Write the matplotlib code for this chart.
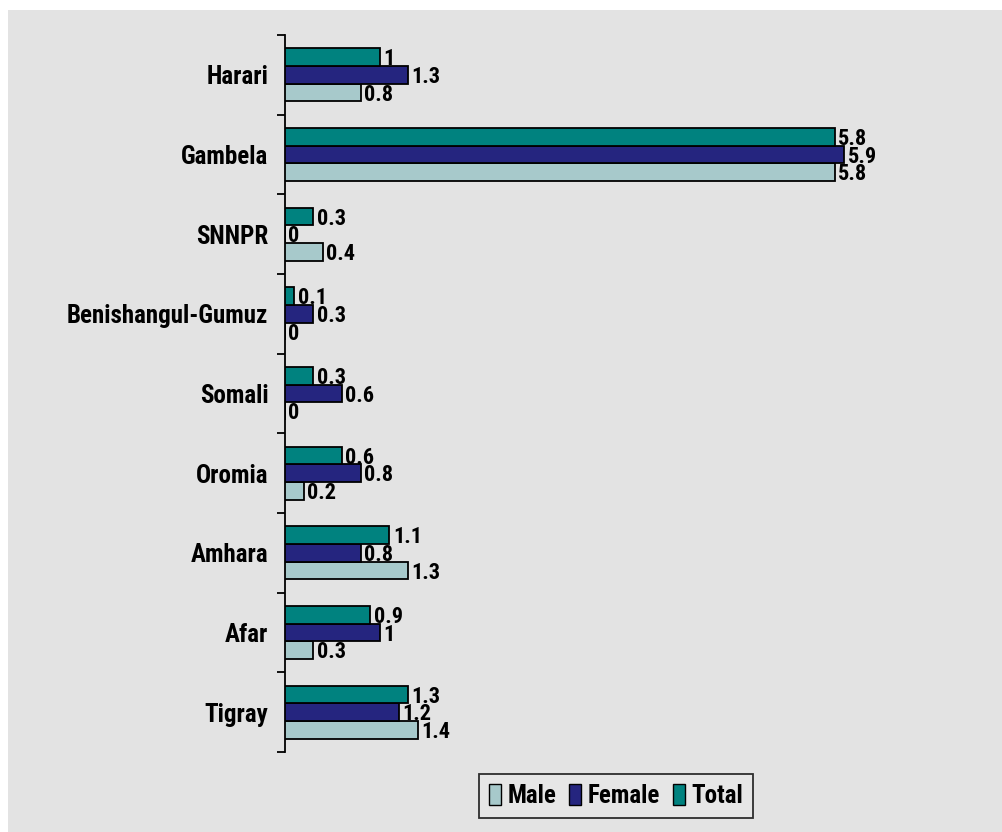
import matplotlib
matplotlib.use("Agg")
import matplotlib.pyplot as plt
from matplotlib.patches import Rectangle, Patch
import numpy as np

regions = ["Tigray", "Afar", "Amhara", "Oromia", "Somali",
           "Benishangul-Gumuz", "SNNPR", "Gambela", "Harari"]
male = [1.4, 0.3, 1.3, 0.2, 0, 0, 0.4, 5.8, 0.8]
female = [1.2, 1, 0.8, 0.8, 0.6, 0.3, 0, 5.9, 1.3]
total = [1.3, 0.9, 1.1, 0.6, 0.3, 0.1, 0.3, 5.8, 1]

c_male = "#a7c9cb"
c_female = "#25257f"
c_total = "#00827f"
bg = "#e3e3e3"

FONT = ["Roboto Condensed", "DejaVu Sans"]
plt.rcParams["font.family"] = FONT
plt.rcParams["font.weight"] = "bold"

W, H = 1003, 832
fig = plt.figure(figsize=(W / 100, H / 100), dpi=100)
fig.patch.set_facecolor("white")
fig.patches.append(Rectangle((8 / W, 0), 1 - 8 / W, 1 - 10 / H,
                             transform=fig.transFigure, facecolor=bg,
                             edgecolor="none", zorder=-10))

x0 = 285 / W
ax = fig.add_axes([x0, 1 - 752 / H, 7 * 94.8 / W, (752 - 35) / H])
ax.set_facecolor("none")

y = np.arange(len(regions))
h = 0.222
series = [(male, c_male, -h, "Male"), (female, c_female, 0, "Female"),
          (total, c_total, h, "Total")]
for vals, col, off, lab in series:
    ax.barh(y + off, vals, height=h, color=col, edgecolor="black",
            linewidth=1.3, label=lab, zorder=3)
    for v, yy in zip(vals, y + off):
        txt = f"{v:g}"
        ax.annotate(txt, (v, yy), xytext=(2.5, -1.5), textcoords="offset points",
                    ha="left", va="center", fontsize=16, fontweight="bold",
                    zorder=4)

ax.set_xlim(0, 7)
ax.set_ylim(-0.5, len(regions) - 0.5)
for s in ["top", "right", "bottom"]:
    ax.spines[s].set_visible(False)
ax.spines["left"].set_linewidth(1.3)
ax.set_xticks([])
ax.set_yticks(y)
ax.set_yticklabels(regions, fontsize=18, fontweight="bold")
ax.tick_params(axis="y", which="major", length=0, pad=12)
ax.set_yticks(np.arange(-0.5, len(regions), 1.0), minor=True)
ax.tick_params(axis="y", which="minor", length=6, width=1.3, direction="out")

handles = [Patch(facecolor=c_male, edgecolor="black", label="Male"),
           Patch(facecolor=c_female, edgecolor="black", label="Female"),
           Patch(facecolor=c_total, edgecolor="black", label="Total")]
leg = fig.legend(handles=handles, loc="center", bbox_to_anchor=(616 / W, 1 - 796 / H),
                 ncol=3, frameon=True, fancybox=False, fontsize=18,
                 handlelength=0.5, handleheight=0.9, handletextpad=0.25,
                 columnspacing=0.5, borderpad=0.4, borderaxespad=0)
leg.get_frame().set_edgecolor("black")
leg.get_frame().set_linewidth(1.3)
leg.get_frame().set_facecolor("#e8e8e8")
for t in leg.get_texts():
    t.set_fontweight("bold")

fig.savefig("out.png", dpi=100)
